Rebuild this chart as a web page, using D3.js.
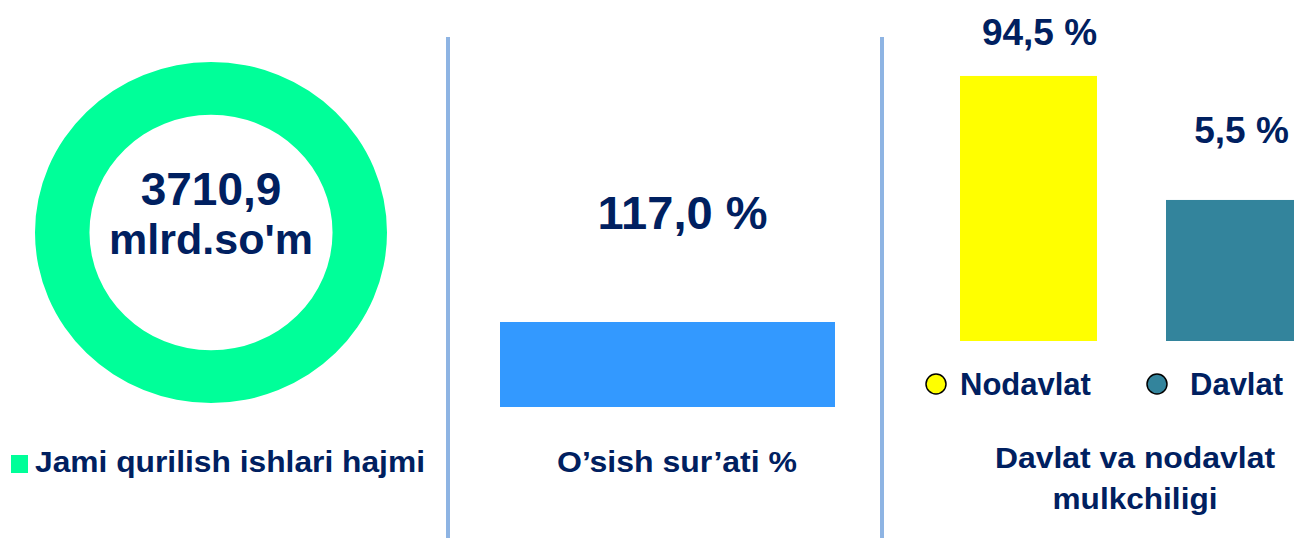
<!DOCTYPE html>
<html>
<head>
<meta charset="utf-8">
<script src="https://cdn.jsdelivr.net/npm/d3@7"></script>
<style>
  html, body { margin: 0; padding: 0; background: #ffffff; }
  svg { display: block; }
  text { font-family: "Liberation Sans", Arial, sans-serif; font-weight: bold; fill: #002060; }
</style>
</head>
<body>
<svg id="chart" width="1294" height="538"></svg>
<script>
// ---- data ----
const totalLabel = "Jami qurilish ishlari hajmi";
const totalValue = [3710.9];
const totalUnit = "mlrd.so'm";

const growthCategory = ["O’sish sur’ati %"];
const growthValue = [117.0];

const ownershipCategories = ["Nodavlat", "Davlat"];
const ownershipValues = [94.5, 5.5];
const ownershipTitle = ["Davlat va nodavlat", "mulkchiligi"];

const fmt = v => d3.format(".1f")(v).replace(".", ",");

// ---- styles ----
const donutColor = "#00ff99";
const growthColor = "#3399ff";
const ownershipColors = ["#ffff00", "#33849c"];
const dividerColor = "#8eb4e3";

const svg = d3.select("#chart");

// ---- dividers ----
[448, 882].forEach(x => {
  svg.append("line").attr("x1", x).attr("x2", x).attr("y1", 37).attr("y2", 538)
    .attr("stroke", dividerColor).attr("stroke-width", 4);
});

// ---- panel 1: donut ----
const donutG = svg.append("g").attr("transform", "translate(211,232.5) scale(1,0.969)");
const pie = d3.pie().sort(null).value(d => d);
const arc = d3.arc().innerRadius(121.5).outerRadius(176);
donutG.selectAll("path").data(pie(totalValue)).join("path")
  .attr("d", arc).attr("fill", donutColor);

svg.append("text").attr("x", 211).attr("y", 205).attr("text-anchor", "middle")
  .attr("font-size", 46).text(fmt(totalValue[0]));
svg.append("text").attr("x", 211).attr("y", 254).attr("text-anchor", "middle")
  .attr("font-size", 43).text(totalUnit);

svg.append("rect").attr("x", 11).attr("y", 455).attr("width", 17).attr("height", 18)
  .attr("fill", donutColor);
svg.append("text").attr("x", 35).attr("y", 472).attr("font-size", 29)
  .attr("textLength", 390).attr("lengthAdjust", "spacingAndGlyphs").text(totalLabel);

// ---- panel 2: growth bar ----
const xG = d3.scaleBand().domain(growthCategory).range([500, 835]).padding(0);
const yG = d3.scaleLinear().domain([0, 117]).range([407, 322]);
svg.selectAll(".gbar").data(growthValue).join("rect").attr("class", "gbar")
  .attr("x", (d, i) => xG(growthCategory[i]))
  .attr("width", xG.bandwidth())
  .attr("y", d => yG(d))
  .attr("height", d => yG(0) - yG(d))
  .attr("fill", growthColor);
svg.selectAll(".glabel").data(growthValue).join("text").attr("class", "glabel")
  .attr("x", (d, i) => xG(growthCategory[i]) + xG.bandwidth() / 2 + 15)
  .attr("y", d => yG(d) - 93)
  .attr("text-anchor", "middle").attr("font-size", 47)
  .text(d => fmt(d) + " %");
svg.append("text").attr("x", 677).attr("y", 472).attr("text-anchor", "middle")
  .attr("font-size", 29).attr("textLength", 240).attr("lengthAdjust", "spacingAndGlyphs")
  .text(growthCategory[0]);

// ---- panel 3: ownership bars ----
const xO = d3.scaleBand().domain(ownershipCategories).range([960, 1303]).paddingInner(0.335);
const yO = d3.scaleLog().domain([0.2165, 100]).range([341, 73.5]);
const labelDx = [11, 7];
const labelDy = [31, 57];
svg.selectAll(".obar").data(ownershipValues).join("rect").attr("class", "obar")
  .attr("x", (d, i) => xO(ownershipCategories[i]))
  .attr("width", xO.bandwidth())
  .attr("y", d => yO(d))
  .attr("height", d => yO.range()[0] - yO(d))
  .attr("fill", (d, i) => ownershipColors[i]);
svg.selectAll(".olabel").data(ownershipValues).join("text").attr("class", "olabel")
  .attr("x", (d, i) => xO(ownershipCategories[i]) + xO.bandwidth() / 2 + labelDx[i])
  .attr("y", (d, i) => yO(d) - labelDy[i])
  .attr("text-anchor", "middle").attr("font-size", 37)
  .text(d => fmt(d) + " %");

// legend
const legX = [936, 1157];
const legTextX = [960, 1190];
ownershipCategories.forEach((c, i) => {
  svg.append("circle").attr("cx", legX[i]).attr("cy", 384).attr("r", 10)
    .attr("fill", ownershipColors[i]).attr("stroke", "#000").attr("stroke-width", 1.5);
  svg.append("text").attr("x", legTextX[i]).attr("y", 395).attr("font-size", 31).text(c);
});

svg.append("text").attr("x", 1135).attr("y", 468).attr("text-anchor", "middle")
  .attr("font-size", 29).attr("textLength", 280).attr("lengthAdjust", "spacingAndGlyphs")
  .text(ownershipTitle[0]);
svg.append("text").attr("x", 1135).attr("y", 509).attr("text-anchor", "middle")
  .attr("font-size", 29).attr("textLength", 165).attr("lengthAdjust", "spacingAndGlyphs")
  .text(ownershipTitle[1]);
</script>
</body>
</html>
